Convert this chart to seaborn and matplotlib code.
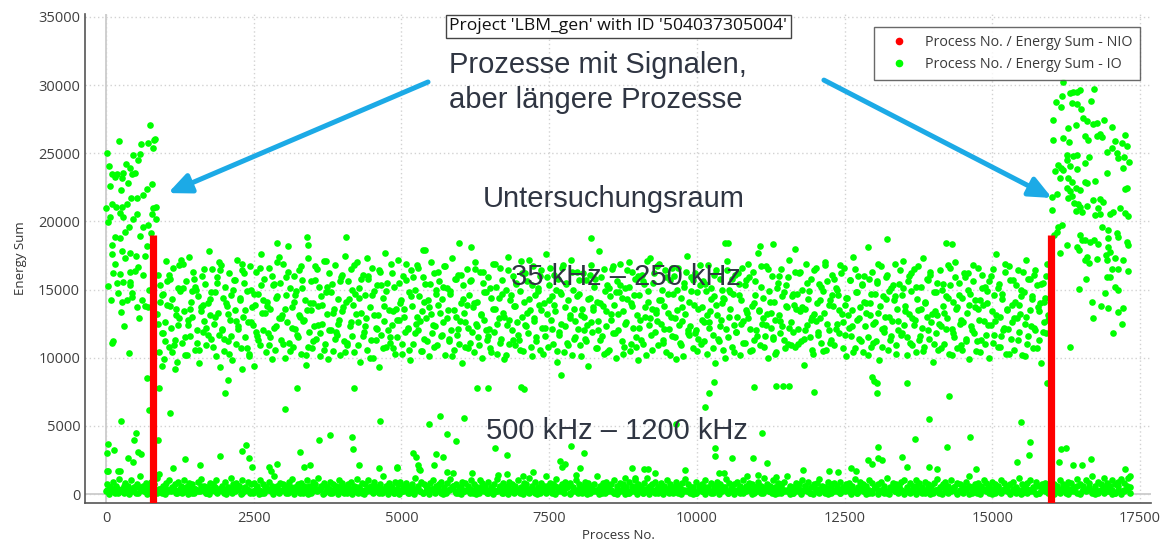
import numpy as np
import pandas as pd
import matplotlib
matplotlib.use("Agg")
import matplotlib.pyplot as plt
from matplotlib.lines import Line2D
from matplotlib.ticker import MultipleLocator
import seaborn as sns

# ---------------- data ----------------
title = "Project 'LBM_gen' with ID '504037305004'"
legend_labels = ["Process No. / Energy Sum - NIO", "Process No. / Energy Sum - IO"]
x_ticks = [0, 2500, 5000, 7500, 10000, 12500, 15000, 17500]
y_ticks = [0, 5000, 10000, 15000, 20000, 25000, 30000, 35000]

# left group of long processes (Process No., Energy Sum)
left_cluster = [
    (11, 24990), (740, 27100), (225, 25900), (600, 25660), (710, 25730), (830, 26020),
    (790, 25380), (460, 24870), (575, 24940), (545, 24500), (56, 24080), (107, 23480),
    (152, 23280), (190, 23480), (293, 23530), (340, 24200), (406, 23890), (435, 23480),
    (490, 23580), (265, 23160), (378, 22800), (248, 22300), (772, 22740), (700, 22350),
    (631, 21940), (519, 21690), (418, 21690), (350, 21270), (265, 21030), (0, 21000),
    (96, 21250), (169, 21080), (237, 20590), (293, 20350), (68, 20350), (39, 19980),
    (395, 19610), (462, 20150), (530, 20540), (631, 19610), (716, 19740), (800, 20960),
    (840, 21030), (778, 20540), (840, 20150), (755, 19170), (152, 18880), (237, 18760),
    (96, 18270), (700, 18220), (406, 17710), (507, 17490), (660, 17490), (96, 17610),
    (265, 17860), (545, 16680), (406, 16310), (490, 16380), (124, 16190), (237, 16140),
    (39, 15280), (180, 15460), (293, 15580), (406, 15580), (406, 15330), (209, 14770),
    (265, 14110), (350, 14230), (435, 14720), (435, 14470), (603, 14230), (519, 13740),
    (660, 13810), (716, 13740), (254, 13370), (113, 11250), (395, 10320), (100, 11100),
    (700, 8500), (815, 25960), (60, 22600), (330, 19200), (580, 18900), (150, 16900),
    (620, 16100), (320, 17300), (720, 15000), (80, 14200), (560, 12900), (300, 12300),
]

# right group of long processes
right_cluster = [
    (16201, 30250), (16173, 29200), (16314, 29400), (16360, 29520), (16440, 29520),
    (16483, 29640), (16720, 29700), (16077, 28780), (16160, 28420), (16342, 28660),
    (16427, 28610), (16500, 28220), (16664, 28860), (16020, 27440), (16540, 27560),
    (16596, 27390), (16709, 27140), (16776, 27240), (16890, 27440), (17020, 26950),
    (16286, 26830), (16410, 27070), (16032, 25970), (16190, 26090), (16303, 25800),
    (16568, 26260), (16625, 25970), (16765, 26260), (16822, 26410), (16850, 26220),
    (17076, 25920), (17190, 25730), (17245, 26340), (17285, 25560), (16935, 25120),
    (17020, 25360), (17104, 25000), (17130, 24620), (17228, 24700), (17318, 24380),
    (17217, 23890), (16935, 23530), (16258, 24870), (16371, 24800), (16440, 24870),
    (16640, 24750), (16258, 24500), (16314, 24060), (16117, 24140), (16160, 23890),
    (16060, 23700), (16201, 23770), (16440, 23820), (16568, 24260), (16145, 23160),
    (16286, 23160), (16342, 22920), (16568, 22920), (16596, 22840), (16737, 22990),
    (16258, 22430), (16314, 22260), (16416, 22430), (16483, 22300), (17245, 22380),
    (17285, 22430), (16004, 21810), (16100, 22010), (16286, 21690), (16342, 21860),
    (16382, 21380), (16455, 21280), (16483, 21080), (16511, 20710), (16416, 20780),
    (16608, 21160), (16709, 21570), (16822, 21620), (16878, 21450), (16793, 20960),
    (16737, 20470), (16822, 20540), (16991, 20540), (17048, 20710), (17160, 20960),
    (17245, 20590), (17300, 20400), (16004, 20840), (16173, 19740), (16117, 19620),
    (16088, 19250), (16050, 19010), (16258, 18280), (16145, 17660), (16483, 19010),
    (16511, 18640), (16427, 18150), (16472, 17900), (16568, 18640), (16653, 18520),
    (16720, 18640), (16793, 18350), (16860, 19620), (16963, 18760), (17104, 19130),
    (17130, 18880), (17273, 18520), (17300, 18280), (16963, 18150), (16991, 17780),
    (16924, 17540), (16935, 17170), (17076, 17290), (17217, 17170), (17300, 16380),
    (17020, 16480), (17130, 16480), (16596, 17370), (16568, 17170), (16636, 16970),
    (16765, 17220), (16946, 15900), (16991, 15900), (16580, 15780), (16472, 15020),
    (17076, 15210), (17130, 14970), (16906, 14720), (16680, 14110), (16833, 13790),
    (16952, 13620), (17130, 13380), (17217, 13620), (16314, 10810), (16960, 19370),
    (17200, 12500), (17050, 11800), (16700, 12900),
]

# isolated points outside the two dense bands
outliers = [
    (20, 3000), (35, 3670), (140, 3230), (250, 5350), (370, 2640), (450, 2350),
    (480, 3960), (500, 4470), (540, 3050), (600, 2900), (730, 6160), (880, 3960),
    (900, 7780), (1090, 5940), (1340, 2570), (1590, 2130), (1930, 2790), (2010, 7410),
    (2060, 8360), (2300, 3150), (2370, 3590), (2420, 2640), (2470, 1980), (2760, 2000),
    (2800, 1700), (2890, 2200), (3030, 6240), (3230, 7780), (3280, 3080), (3350, 2000),
    (3450, 2100), (3600, 3960), (3790, 4330), (4160, 4180), (4180, 3300), (4200, 7780),
    (4290, 2100), (4640, 5350), (4620, 1900), (4930, 1900), (15, 1710), (30, 1710),
    (200, 1710), (230, 1710), (900, 1500), (1130, 1900),
    (5650, 5720), (5470, 5140), (6060, 5570), (5770, 4400), (5920, 3890), (6790, 2860),
    (8090, 3010), (10140, 6380), (10200, 7410), (10290, 8220), (10970, 7850),
    (11340, 7920), (11450, 7920), (11560, 7920), (11100, 4470), (10310, 2790),
    (10590, 2640), (10950, 2640), (11190, 2270), (9800, 1760), (8900, 1900), (9100, 1800),
    (9170, 1800), (9290, 1540), (8020, 1910), (7680, 2420), (7720, 1980), (7770, 2200),
    (5580, 2930), (5700, 2710), (5200, 3010), (5240, 2700), (5280, 2100), (5290, 1850),
    (5310, 1760), (5550, 2130), (4930, 1980), (5770, 1610), (5870, 1540), (6190, 1540),
    (6640, 1400), (6780, 1500), (7060, 1320), (7230, 1610), (10370, 1540), (10460, 1540),
    (11040, 1400), (10850, 1320), (11340, 1250), (7450, 1300), (7950, 1400), (8780, 1200),
    (8950, 1200), (6280, 7780), (6460, 7780), (7020, 7850), (7070, 7700), (7700, 8730),
    (9650, 5140), (10300, 3400), (6590, 3400), (7870, 3550),
    (11980, 7480), (13050, 8140), (13050, 7410), (13560, 8140), (13930, 5500),
    (14270, 7190), (13690, 4030), (13070, 3450), (14230, 3450), (14620, 4180),
    (15480, 5280), (15640, 3810), (15620, 2860), (15420, 2350), (16160, 3300),
    (16250, 3380), (16130, 2350), (16670, 2570), (16370, 2100), (16510, 2100),
    (17250, 1830), (12900, 2500), (12960, 2200), (13070, 2640), (13130, 2500),
    (13470, 2710), (13560, 2000), (13930, 2000), (14060, 1830), (12600, 1900),
    (12700, 1700), (12230, 1700), (12380, 1650), (11800, 1750), (14730, 1850),
    (17300, 1200), (2310, 9200), (1930, 9300), (1170, 9200), (940, 9400), (12970, 8600),
    (13000, 8300), (15920, 8140), (2900, 18440), (3400, 18830), (4070, 18830),
    (3420, 18240), (13210, 18680), (14210, 18440), (14320, 18350), (12900, 18150),
    (11660, 18000), (8200, 18760), (5980, 18440), (6170, 18100), (10480, 18400),
    (10530, 18400), (11060, 18200), (11290, 18330), (5370, 17900),
]

# main band 35-250 kHz, first pass of processes 860 ... 15950 (in order)
mid_first, mid_last = 860, 15950
mid_y = [
    13200, 16100, 10400, 15300, 11800, 14700, 9900, 12600, 17100, 13900, 10800, 15800, 12200, 14300, 16600, 11300, 13600, 9700, 15100, 12900,
    14900, 11100, 16900, 13400, 10200, 15600, 12400, 17400, 11600, 14100, 13000, 16300, 10600, 15000, 12000, 14500, 9600, 13700, 16000, 11900,
    12700, 15400, 10900, 14000, 17800, 13100, 11400, 16500, 12500, 14800, 10100, 15900, 13300, 11700, 16800, 12100, 14400, 10500, 15200, 13800,
    11200, 16200, 12800, 14600, 9800, 15700, 13500, 11000, 17200, 12300, 14200, 10700, 16400, 13000, 15500, 11500, 14900, 12600, 10300, 16700,
    15000, 12400, 9400, 13900, 16300, 11600, 14700, 10900, 17600, 13300, 12000, 15800, 10400, 14100, 11800, 16600, 13600, 9900, 15300, 12200,
    10600, 14400, 17000, 12900, 15500, 11300, 13100, 16900, 10000, 14600, 12600, 18200, 11100, 15100, 13700, 10800, 16000, 12100, 14900, 11500,
    16400, 13000, 10300, 15700, 12700, 14200, 9500, 13500, 17300, 11900, 15600, 10700, 14000, 12300, 16700, 11400, 13800, 15200, 10100, 14500,
    12500, 17100, 11000, 14800, 13200, 9900, 16200, 12000, 15400, 10500, 13600, 16800, 11700, 14300, 12800, 10200, 15900, 13400, 11200, 17500,
    14100, 10900, 15600, 12300, 16500, 11600, 13900, 10400, 14700, 17000, 12600, 15100, 9700, 13300, 16100, 11900, 14600, 12900, 10600, 15800,
    13700, 11300, 16600, 10000, 14900, 12200, 15300, 13100, 9300, 16300, 11700, 14400, 12700, 17700, 10800, 15500, 13500, 11100, 16900, 12400,
    10700, 15200, 13600, 11500, 17200, 12800, 14000, 10300, 16000, 13000, 11900, 15700, 12100, 14800, 9800, 16400, 13800, 11000, 15000, 12500,
    16800, 12000, 14500, 10500, 13400, 15900, 11400, 17900, 12900, 14200, 10100, 15400, 13200, 11800, 16200, 12300, 14700, 10900, 13900, 15600,
    11600, 14300, 12600, 16700, 10200, 15100, 13500, 11200, 14900, 12000, 17300, 10600, 15800, 13000, 11700, 16100, 12700, 14000, 9600, 15300,
    13300, 10800, 16500, 12200, 14600, 11100, 15700, 13700, 10400, 17000, 12500, 14100, 11500, 16300, 13100, 10000, 15500, 12800, 14800, 11300,
    15900, 12100, 10700, 14400, 16900, 11900, 13600, 15200, 10300, 12900, 16600, 11400, 14700, 13300, 9900, 15000, 12400, 17400, 11000, 14200,
    12000, 16000, 13800, 10900, 15400, 12600, 11300, 14900, 17100, 13000, 10500, 16200, 12300, 15600, 11800, 14300, 13500, 10100, 16700, 12700,
    14600, 11200, 15100, 13900, 10600, 16400, 12200, 14000, 11600, 17600, 13200, 10800, 15300, 12800, 14500, 11000, 16100, 13400, 9700, 15800,
    11700, 14800, 12500, 16600, 10400, 13700, 15500, 11100, 14200, 12900, 17200, 10200, 15000, 13600, 11500, 16300, 12100, 14700, 10900, 13100,
    16200, 13000, 11400, 15700, 12400, 9400, 14400, 16800, 11900, 13500, 15200, 10700, 14100, 12700, 17800, 11300, 15900, 13800, 10300, 14900,
    12300, 15300, 10600, 14500, 13200, 16500, 11800, 13900, 10000, 15600, 12000, 14800, 16900, 11200, 13400, 10800, 15100, 12600, 14300, 17000,
    10500, 14000, 16300, 12200, 15800, 11500, 13100, 9800, 14600, 12800, 16100, 11000, 15400, 13700, 10200, 14900, 12400, 17300, 11700, 13600,
    15500, 11900, 13300, 16700, 10900, 14200, 12500, 15000, 11300, 13800, 16400, 10400, 14700, 12100, 15700, 13000, 11600, 16000, 12900, 9900,
    13500, 16600, 11100, 14400, 12700, 10100, 15200, 13200, 17500, 11800, 14100, 12300, 15900, 10700, 13900, 16200, 12000, 14800, 11400, 15300,
    11000, 13700, 15600, 12600, 14900, 10300, 16800, 12200, 13400, 15100, 11700, 14500, 9600, 16400, 13100, 11200, 15800, 12800, 14000, 10600,
    14300, 12100, 17100, 11500, 15000, 13600, 10800, 14700, 12400, 16100, 11900, 13000, 15400, 10200, 14200, 16600, 12700, 11100, 15700, 13300,
    12900, 15900, 10500, 13800, 16300, 11300, 14600, 12000, 17700, 13500, 10900, 15200, 12500, 14400, 11600, 16700, 13200, 10000, 14900, 12200,
    16000, 11400, 14100, 12800, 10400, 15500, 13100, 11800, 16500, 12300, 14800, 10700, 15300, 13700, 11000, 17200, 12600, 14500, 11900, 13900,
    10800, 14700, 12100, 16200, 13400, 11200, 15000, 9500, 13600, 16900, 12400, 14300, 11500, 15800, 13000, 10300, 16400, 12700, 14000, 11700,
    15400, 12900, 11100, 14900, 13300, 17000, 10600, 15600, 12000, 14200, 11300, 16100, 13800, 10900, 15100, 12500, 14600, 11800, 16800, 13200,
    12600, 16600, 13900, 10100, 14400, 12200, 15700, 11600, 13500, 17400, 10700, 14800, 12800, 16000, 11400, 13700, 15300, 10400, 14100, 12300,
    14000, 11500, 15800, 13100, 10800, 16300, 12500, 14700, 11200, 15500, 13300, 9800, 16700, 12100, 14500, 11900, 13000, 15900, 10600, 14900,
    11300, 15100, 12700, 14200, 16900, 10900, 13600, 12000, 15400, 11700, 14600, 17100, 12400, 13800, 10200, 15600, 13200, 11100, 16200, 12900,
    16500, 12800, 10400, 14300, 13500, 11600, 15200, 12200, 17300, 10800, 14000, 13000, 15700, 11400, 16100, 12600, 9700, 14800, 13400, 11800,
    13100, 10600, 16400, 12300, 15000, 13800, 11000, 14500, 12900, 16800, 10300, 15300, 12100, 14100, 11500, 17000, 13600, 10700, 15500, 12500,
    10900, 14400, 12600, 15900, 11200, 13300, 16200, 9900, 14700, 12000, 15600, 11800, 13700, 10500, 16600, 12800, 14200, 11300, 15100, 13900,
    15200, 11700, 14900, 12400, 10000, 16000, 13400, 11100, 14600, 12700, 17600, 10800, 15400, 13000, 11600, 14300, 12200, 16300, 10300, 13600,
    12100, 16700, 11400, 13900, 15700, 10600, 14100, 12900, 16400, 11900, 13200, 15000, 10200, 14800, 12500, 17200, 11000, 15800, 13500, 12300,
    14500, 10700, 16100, 12000, 15300, 13700, 11300, 14000, 9600, 15500, 12600, 14400, 11800, 16900, 13100,
]

# main band, second pass of processes 880 ... 15940 (in order)
mid2_first, mid2_last = 880, 15940
mid2_y = [
    12500, 14100, 14600, 11800, 11200, 15600, 16100, 13800, 10400, 10900, 13100, 12400, 16800, 17200, 15100, 11500, 10200, 12800, 13600, 14900,
    15800, 15200, 11100, 10600, 13400, 13900, 16500, 12200, 11700, 14300, 14800, 10800, 13000, 15500, 17000, 16400, 12000, 11400, 14000, 13200,
    10300, 11600, 15000, 15700, 12700, 12100, 14400, 16900, 16200, 13500, 10700, 10100, 12600, 13700, 14700, 11900, 11300, 16600, 15300, 14200,
    13300, 13800, 10900, 11500, 16000, 15400, 12300, 14500, 17400, 12900, 11000, 13600, 15900, 16300, 10500, 12200, 14100, 14600, 11700, 13100,
    16700, 15100, 12800, 10200, 10800, 14000, 13500, 11200, 15700, 16500, 12400, 11800, 13900, 10600, 17100, 15200, 12000, 14800, 13300, 11400,
    11900, 12500, 15600, 16100, 13700, 10400, 11100, 14300, 12600, 15000, 16800, 13200, 10900, 14400, 15800, 11600, 12300, 17300, 16000, 10000,
    14600, 13100, 11300, 12100, 16400, 15300, 10700, 13800, 14900, 12000, 11500, 16200, 13400, 10300, 12800, 15500, 14200, 11000, 13600, 16900,
    12200, 10600, 14500, 15900, 11800, 13000, 16600, 12700, 10500, 14100, 15400, 11200, 13700, 17000, 12400, 10800, 15000, 16300, 13300, 11700,
    15200, 16700, 12900, 11400, 14700, 10100, 13500, 15800, 12100, 11000, 16100, 14300, 12600, 13900, 10700, 15600, 11900, 14000, 16500, 12300,
    10900, 13200, 16300, 14800, 12000, 11600, 15100, 10400, 13600, 16900, 12500, 14400, 11100, 15700, 13000, 10200, 16400, 12800, 14600, 11300,
    13800, 15500, 11700, 10600, 16200, 14100, 12400, 13300, 17200, 10800, 15300, 12900, 11500, 14900, 16000, 13500, 10300, 12200, 15900, 14200,
    16600, 12100, 13900, 15000, 10500, 11900, 14700, 16800, 12300, 15400, 10900, 13100, 16300, 11400, 12700, 14500, 15700, 10100, 13600, 12000,
    11200, 14300, 16100, 12600, 13700, 15800, 10700, 12000, 14000, 11600, 16500, 13400, 10400, 15100, 12800, 16700, 11800, 14800, 13200, 15300,
    14400, 10300, 12500, 16400, 15200, 11000, 13800, 14600, 10800, 16000, 12200, 11300, 15600, 13000, 17100, 14100, 12900, 10600, 16200, 13500,
    12700, 16900, 14200, 11100, 12100, 15900, 13300, 10200, 16600, 14700, 11500, 15000, 12400, 10900, 13700, 15500, 16300, 12000, 11700, 14900,
    15700, 11800, 10500, 13600, 16800, 12800, 11200, 15400, 13100, 12600, 14300, 10700, 16100, 13900, 11400, 12300, 15000, 14400, 10000, 16400,
    13000, 14800, 15800, 10400, 11900, 16200, 14600, 12500, 11100, 15300, 13500, 16900, 12100, 10600, 14000, 15600, 11600, 13400, 16700, 12900,
    10800, 12400, 16500, 14100, 13300, 11500, 10300, 15100, 16000, 12700, 14500, 11300, 13800, 15900, 12200, 10900, 14700, 16300, 13600, 11000,
    16300, 13700, 11400, 12000, 15500, 14900, 12800, 10600, 13200, 16600, 11900, 14200, 15200, 10500, 16800, 12500, 13900, 11100, 14600, 15800,
    12100, 15000, 13500, 16200, 10700, 11700, 14400, 13100, 15700, 12300, 10400, 16500, 14800, 12900, 11200, 15400, 16000, 13300, 10200, 14000,
    14700, 11100, 12600, 15600, 16900, 13800, 10800, 12200, 14300, 16100, 13000, 11600, 15300, 14500, 10300, 12700, 16400, 11800, 15100, 13400,
    11500, 16000, 14900, 10900, 12400, 15200, 16700, 11300, 13600, 10500, 14100, 15800, 12000, 16300, 13200, 11000, 14800, 15500, 12500, 10700,
    15400, 13300, 12100, 14400, 16600, 10200, 11800, 15900, 13700, 14600, 12800, 10600, 16200, 11400, 15000, 13900, 12300, 16800, 14200, 11200,
    13600, 10400, 16100, 12700, 11000, 14000, 15600, 12400, 16500, 11700, 13100, 15100, 10800, 14700, 12000, 16900, 13500, 10300, 15700, 12600,
    12900, 15300, 11300, 13900, 14500, 16300, 10100, 13000, 11600, 15800, 14300, 12200, 16400, 10700, 13400, 15400, 11900, 14100, 16000, 12800,
]

# low band 500-1200 kHz: three rows of the solid stripe over all processes
band_first, band_last = 0, 17330
band_low_y = [
    200, 0, 300, 100, 400, 200, 100, 300, 0, 200, 500, 100, 300, 200, 0, 400, 100, 200, 300, 100, 0, 200, 400, 300, 100,
    300, 100, 200, 0, 400, 100, 300, 200, 500, 100, 0, 300, 200, 100, 400, 200, 0, 300, 100, 200, 400, 0, 200, 300, 100,
    100, 300, 0, 200, 100, 400, 300, 0, 200, 100, 300, 500, 100, 200, 0, 300, 100, 400, 200, 0, 100, 300, 200, 400, 0,
    200, 400, 100, 300, 0, 200, 100, 300, 400, 0, 200, 100, 300, 0, 200, 500, 100, 200, 300, 100, 400, 0, 300, 100, 200,
    0, 200, 300, 100, 400, 0, 300, 200, 100, 200, 0, 400, 100, 300, 200, 0, 100, 300, 500, 200, 100, 0, 200, 300, 100,
    300, 0, 100, 400, 200, 100, 300, 0, 200, 400, 100, 200, 0, 300, 100, 200, 400, 0, 300, 100, 200, 300, 0, 100, 400,
    100, 200, 400, 0, 300, 200, 100, 500, 0, 200, 300, 100, 400, 200, 0, 100, 300, 200, 0, 400, 100, 300, 200, 100, 0,
    200, 300, 0, 100, 200, 400, 0, 300, 100, 200, 0, 300, 100, 500, 200, 0, 400, 100, 300, 200, 100, 0, 300, 200, 400,
    0, 100, 300, 200, 0, 400, 200, 100, 300, 0, 200, 400, 100, 300, 0, 200, 100, 300, 200, 400, 0, 100, 200, 500, 100,
    300, 200, 100, 0, 400, 100, 200, 300, 0, 100, 400, 200, 0, 300, 200, 100, 0, 400, 100, 300, 200, 0, 100, 300, 200,
    100, 400, 200, 300, 0, 200, 100, 400, 300, 0, 100, 200, 500, 0, 300, 100, 200, 0, 400, 200, 100, 300, 0, 200, 100,
    200, 0, 300, 100, 200, 400, 0, 100, 300, 200, 0, 400, 100, 200, 300, 0, 200, 100, 400, 0, 300, 200, 100, 0, 300,
    400, 100, 0, 300, 200, 100, 400, 200, 0, 300, 100, 200, 0, 400, 100, 300, 200, 0, 100, 500, 200, 100, 300, 0, 200,
    100, 300, 200, 0, 400, 200, 100, 0, 300, 200, 400, 100, 0, 200, 300, 100, 400, 200, 0, 100, 300, 0, 200, 400, 100,
]
band_mid_y = [
    300, 500, 200, 400, 100, 300, 600, 200, 400, 300, 100, 500, 300, 200, 400, 600, 300, 100, 400, 200, 500, 300, 200, 400, 100,
    400, 200, 500, 300, 100, 400, 200, 600, 300, 100, 400, 300, 500, 200, 300, 100, 400, 200, 500, 300, 600, 100, 300, 400, 200,
    200, 400, 300, 100, 500, 300, 200, 400, 600, 200, 300, 100, 400, 500, 200, 300, 400, 100, 300, 600, 200, 400, 300, 500, 100,
    500, 100, 300, 400, 200, 600, 300, 100, 400, 200, 500, 300, 100, 300, 400, 200, 600, 300, 100, 400, 300, 200, 500, 100, 400,
    300, 200, 400, 100, 500, 300, 400, 200, 100, 600, 300, 400, 200, 500, 100, 300, 200, 400, 600, 100, 300, 500, 200, 300, 400,
    100, 400, 200, 500, 300, 100, 400, 300, 200, 500, 100, 300, 600, 200, 400, 300, 100, 500, 200, 400, 300, 100, 400, 600, 200,
    400, 300, 100, 600, 200, 400, 300, 500, 100, 300, 200, 400, 100, 500, 300, 600, 200, 300, 400, 100, 500, 200, 300, 100, 400,
    200, 500, 300, 100, 400, 200, 600, 300, 100, 400, 500, 200, 300, 100, 400, 300, 200, 500, 100, 600, 300, 400, 200, 300, 100,
    300, 100, 400, 200, 500, 300, 100, 400, 600, 200, 300, 500, 100, 400, 200, 300, 600, 100, 400, 300, 200, 500, 300, 100, 400,
    500, 200, 300, 400, 100, 600, 300, 200, 400, 100, 300, 400, 200, 600, 300, 100, 500, 200, 400, 300, 100, 400, 600, 200, 300,
    100, 300, 500, 200, 400, 300, 100, 600, 200, 400, 300, 100, 500, 300, 200, 400, 100, 300, 500, 200, 600, 300, 100, 400, 200,
    400, 600, 200, 300, 100, 500, 400, 200, 300, 100, 600, 200, 400, 300, 500, 100, 300, 200, 400, 600, 100, 300, 500, 200, 400,
    200, 300, 400, 100, 600, 200, 300, 500, 100, 400, 200, 300, 100, 500, 400, 200, 300, 600, 100, 300, 400, 200, 500, 100, 300,
    300, 500, 100, 400, 200, 300, 600, 100, 400, 300, 500, 200, 400, 100, 300, 500, 200, 400, 300, 100, 600, 200, 300, 400, 500,
]
band_high_y = [
    700, 500, 900, 600, 1100, 400, 800, 600, 1000, 500, 700, 1300, 600, 800, 500, 900, 700, 1200, 400, 600, 800, 1000, 500, 700, 900,
    600, 1000, 500, 800, 700, 400, 900, 1100, 600, 500, 800, 700, 1000, 400, 600, 900, 500, 1200, 700, 800, 600, 1000, 500, 900, 700,
    800, 600, 1000, 700, 500, 900, 600, 1300, 500, 800, 700, 600, 900, 1100, 500, 700, 800, 600, 1000, 500, 900, 700, 1200, 600, 800,
    500, 900, 700, 600, 1000, 800, 500, 700, 900, 600, 1100, 500, 800, 700, 1000, 600, 900, 500, 700, 1300, 600, 800, 500, 900, 700,
    900, 600, 800, 500, 700, 1200, 600, 900, 700, 500, 800, 1000, 600, 700, 900, 500, 800, 1100, 600, 700, 500, 900, 800, 600, 1000,
    700, 500, 1000, 800, 600, 900, 500, 700, 1100, 600, 800, 500, 900, 700, 600, 1000, 500, 800, 700, 1200, 600, 900, 500, 800, 600,
    600, 800, 700, 1100, 500, 700, 900, 600, 800, 500, 1000, 700, 600, 900, 800, 500, 700, 1300, 600, 800, 900, 500, 700, 1000, 600,
    800, 700, 500, 900, 600, 1000, 700, 500, 800, 1200, 600, 700, 900, 500, 800, 600, 1000, 700, 500, 900, 600, 800, 1100, 700, 500,
    500, 900, 600, 700, 1000, 500, 800, 600, 900, 700, 500, 1100, 800, 600, 700, 900, 500, 1000, 600, 800, 700, 500, 900, 600, 1200,
    700, 600, 1000, 500, 800, 700, 900, 1300, 600, 500, 800, 700, 1000, 600, 900, 500, 700, 800, 1100, 600, 500, 900, 700, 800, 600,
    900, 500, 700, 800, 600, 1100, 500, 900, 700, 600, 1000, 800, 500, 700, 900, 600, 1200, 500, 800, 700, 600, 900, 1000, 500, 800,
    600, 1000, 800, 500, 900, 700, 600, 800, 1100, 500, 700, 900, 600, 1000, 500, 800, 700, 600, 900, 1300, 500, 700, 800, 600, 1000,
    800, 600, 900, 700, 500, 1000, 800, 600, 700, 900, 500, 1200, 700, 600, 800, 1000, 500, 900, 600, 700, 800, 500, 1100, 700, 600,
    1000, 700, 600, 900, 800, 500, 1100, 700, 600, 1000, 800, 1300, 600, 900, 700, 1200, 800, 600, 1000, 700, 900, 1100, 800, 600, 1300,
]

# hand-drawn annotations: red boundary bars and arrows
red_bars_x = [800, 16000]
red_bar_top = 19000
arrows = [((5450, 30230), (1050, 22080)), ((12150, 30370), (16010, 21720))]

# ---------------- build table ----------------
def pairs_frame(pts):
    xs, ys = zip(*pts)
    return pd.DataFrame({"Process No.": xs, "Energy Sum": ys})

def series_frame(first, last, values):
    return pd.DataFrame({"Process No.": np.linspace(first, last, len(values)),
                         "Energy Sum": values})

frames = [
    pairs_frame(left_cluster),
    pairs_frame(right_cluster),
    pairs_frame(outliers),
    series_frame(mid_first, mid_last, mid_y),
    series_frame(mid2_first, mid2_last, mid2_y),
    series_frame(band_first, band_last, band_low_y),
    series_frame(band_first + 12, band_last, band_mid_y),
    series_frame(band_first + 25, band_last, band_high_y),
]
df = pd.concat(frames, ignore_index=True)

# ---------------- style ----------------
sns.set_style("white")
plt.rcParams["font.family"] = ["Open Sans", "DejaVu Sans"]

W, H = 1167, 546
fig = plt.figure(figsize=(W / 100, H / 100), dpi=100)
ax = fig.add_axes([85 / W, (H - 503) / H, (1151 - 85) / W, (503 - 14) / H])

XMIN, XMAX, YMIN, YMAX = -355, 17685, -660, 35220
ax.set_xlim(XMIN, XMAX)
ax.set_ylim(YMIN, YMAX)

ax.grid(True, which="major", color="#d2d2d2", linestyle=(0, (1, 2)), linewidth=1)
ax.set_axisbelow(True)
ax.axvline(0, color="#cccccc", lw=1.3, zorder=1)
ax.axhline(0, color="#cccccc", lw=1.3, zorder=1)

sns.scatterplot(data=df, x="Process No.", y="Energy Sum", color="#00FF00",
                s=23, linewidth=0, ax=ax, legend=False, zorder=3)

for xb in red_bars_x:
    ax.plot([xb, xb], [YMIN, red_bar_top], color="#FF0000", lw=5.2,
            solid_capstyle="butt", zorder=4)

for (x0, y0), (x1, y1) in arrows:
    ax.annotate("", xy=(x1, y1), xytext=(x0, y0),
                arrowprops=dict(arrowstyle="-|>,head_length=0.9,head_width=0.4",
                                color="#1CAAE6", lw=3.6, mutation_scale=15,
                                shrinkA=0, shrinkB=0), zorder=5)

ann_font = dict(family=["Liberation Sans", "DejaVu Sans"], color="#2f3542", zorder=6)
def ax_pos(px, py):
    return (px - 85) / 1066, (503 - py) / 489

ax.text(*ax_pos(449, 73), "Prozesse mit Signalen,", transform=ax.transAxes,
        fontsize=21, ha="left", va="baseline", **ann_font)
ax.text(*ax_pos(449, 108), "aber längere Prozesse", transform=ax.transAxes,
        fontsize=21, ha="left", va="baseline", **ann_font)
ax.text(*ax_pos(614, 207), "Untersuchungsraum", transform=ax.transAxes,
        fontsize=21, ha="center", va="baseline", **ann_font)
ax.text(*ax_pos(626, 285), "35 kHz – 250 kHz", transform=ax.transAxes,
        fontsize=21, ha="center", va="baseline", **ann_font)
ax.text(*ax_pos(617, 439), "500 kHz – 1200 kHz", transform=ax.transAxes,
        fontsize=21, ha="center", va="baseline", **ann_font)

ax.text(0.5, 0.991, title, transform=ax.transAxes, ha="center", va="top",
        fontsize=12.6, color="#111111", zorder=7,
        bbox=dict(boxstyle="square,pad=0.2", fc="white", ec="#444444", lw=1))

handles = [Line2D([], [], marker="o", ls="", color="#FF0000", markersize=4.5),
           Line2D([], [], marker="o", ls="", color="#00FF00", markersize=4.5)]
leg = ax.legend(handles, legend_labels, loc="upper right",
                bbox_to_anchor=((1140 - 85) / 1066, (503 - 27) / 489),
                fontsize=10.3, frameon=True, fancybox=False, borderaxespad=0,
                borderpad=0.55, handlelength=2.4, handletextpad=0.6,
                labelspacing=0.5, labelcolor="#3a3a3a")
leg.get_frame().set_edgecolor("#444444")
leg.get_frame().set_linewidth(1)
leg.set_zorder(8)

ax.set_xticks(x_ticks)
ax.set_yticks(y_ticks)
ax.xaxis.set_minor_locator(MultipleLocator(500))
ax.yaxis.set_minor_locator(MultipleLocator(1000))
ax.tick_params(which="major", direction="inout", length=6, width=1, colors="#555555",
               labelcolor="#404040", labelsize=10.5)
ax.tick_params(which="minor", direction="in", length=3.5, width=1, colors="#555555")
ax.tick_params(axis="x", pad=3)
ax.tick_params(axis="y", pad=0.5)

for side in ["top", "right"]:
    ax.spines[side].set_visible(False)
for side in ["left", "bottom"]:
    ax.spines[side].set_color("#555555")
    ax.spines[side].set_linewidth(1.2)

ax.set_xlabel("Process No.", fontsize=9.5, color="#333333", labelpad=2)
ax.set_ylabel("Energy Sum", fontsize=9.5, color="#333333", labelpad=8)

fig.savefig("out.png", dpi=100)
